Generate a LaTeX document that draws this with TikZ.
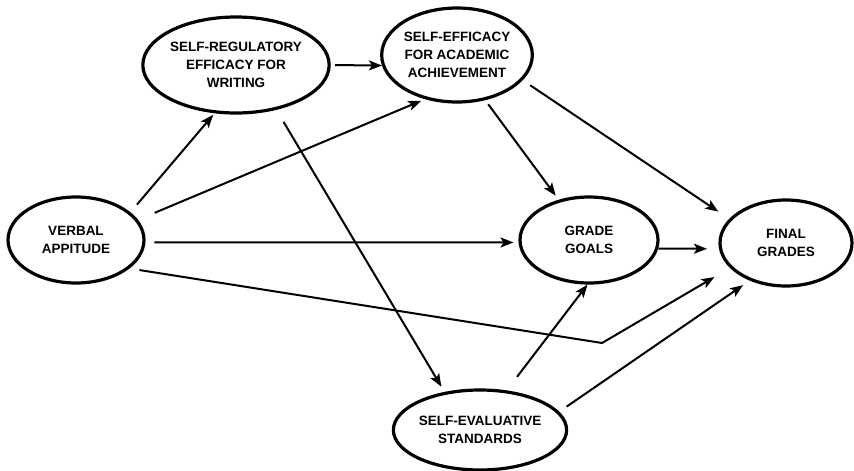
\documentclass[tikz,border=0pt]{standalone}
\usepackage{fontspec}
\setmainfont{Liberation Sans}
\usepackage{tikz}
\usetikzlibrary{shapes.geometric, arrows.meta}

\begin{document}
\begin{tikzpicture}[x=1pt, y=-1pt,
    construct/.style={ellipse, draw, line width=3.2pt, inner sep=0pt, align=center,
        font=\bfseries\fontsize{13.5}{18}\selectfont},
    effect/.style={line width=2pt, -{Stealth[length=13pt, width=10pt, inset=3pt]}}]
    \useasboundingbox (0,0) rectangle (854,471);
    \node[construct, minimum width=136pt, minimum height=86pt] (verbal) at (76,240) {VERBAL\\APPITUDE};
    \node[construct, minimum width=152pt, minimum height=96pt] (selfreg) at (236,65) {SELF-REGULATORY\\EFFICACY FOR\\WRITING};
    \node[construct, minimum width=146pt, minimum height=94pt] (efficacy) at (457,55) {SELF-EFFICACY\\FOR ACADEMIC\\ACHIEVEMENT};
    \node[construct, minimum width=138pt, minimum height=86pt] (goals) at (589,240) {GRADE\\GOALS};
    \node[construct, minimum width=132pt, minimum height=86pt] (grades) at (786,243) {FINAL\\GRADES};
    \node[construct, minimum width=136pt, minimum height=80pt] (standards) at (480,430) {SELF-EVALUATIVE\\STANDARDS};
    \coordinate (bend) at (602,343);

    \draw[effect, shorten <=10pt, shorten >=2pt] (verbal.27) -- (selfreg.-114);
    \draw[effect, shorten <=18pt, shorten >=4pt] (verbal.18) -- (efficacy.-126);
    \draw[effect, shorten <=9pt, shorten >=5pt] (verbal.-2) -- (goals.182);
    \draw[effect, shorten <=10pt, shorten >=18pt] (verbal.-28) -- (bend) -- (grades.-156);
    \draw[effect, shorten <=4pt] (selfreg.east) -- (efficacy.188);
    \draw[effect, shorten <=14pt, shorten >=6pt] (selfreg.-48) -- (standards.133);
    \draw[effect, shorten <=5pt, shorten >=5pt] (efficacy.-58) -- (goals.127);
    \draw[effect, shorten <=9pt, shorten >=13pt] (efficacy.-21.5) -- (grades.157.6);
    \draw[effect, shorten >=12pt] (goals.-7.5) -- (grades.-175.6);
    \draw[effect, shorten <=17pt] (standards.56.6) -- (goals.-92.5);
    \draw[effect, shorten <=9pt, shorten >=8pt] (standards.13) -- (grades.-134);
\end{tikzpicture}
\end{document}
